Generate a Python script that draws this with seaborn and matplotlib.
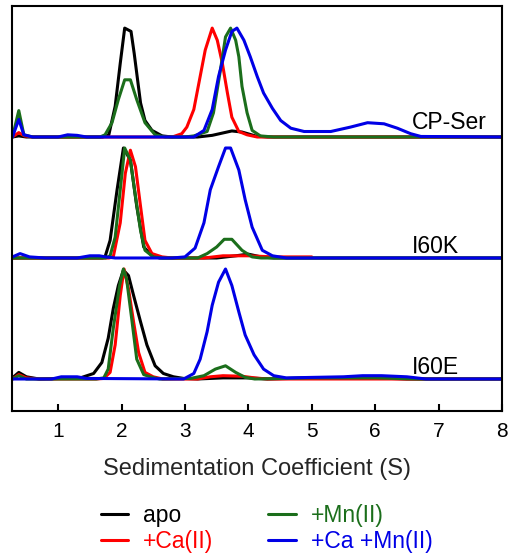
import matplotlib
matplotlib.use("Agg")
import matplotlib.pyplot as plt
from matplotlib.lines import Line2D
import seaborn as sns
import pandas as pd

# ---------------- data ----------------
conditions = ["apo", "+Ca(II)", "+Mn(II)", "+Ca +Mn(II)"]
colors = ["#000000", "#ff0000", "#1b6e1b", "#0000e6"]
panel_names = ["CP-Ser", "I60K", "I60E"]
panel_offsets = [2.2, 1.1, 0.0]
x_ticks = [1, 2, 3, 4, 5, 6, 7, 8]

# CP-Ser
cp_apo_s = [0.28, 0.38, 0.5, 1.7, 1.8, 1.9, 1.98, 2.05, 2.15, 2.2, 2.3, 2.37, 2.48, 2.64, 2.8, 3.2, 3.43, 3.74, 3.9, 4.11, 4.3, 8.0]
cp_apo_y = [0, 0.01, 0, 0, 0.02, 0.28, 0.67, 0.99, 0.96, 0.76, 0.31, 0.15, 0.06, 0.01, 0, 0, 0.015, 0.055, 0.045, 0.01, 0, 0]
cp_ca_s = [0.28, 0.38, 0.47, 0.6, 2.8, 2.95, 3.03, 3.14, 3.24, 3.32, 3.43, 3.51, 3.59, 3.67, 3.74, 3.85, 3.98, 4.14, 8.0]
cp_ca_y = [0, 0.04, 0.01, 0, 0, 0.03, 0.09, 0.25, 0.55, 0.79, 0.99, 0.88, 0.67, 0.40, 0.18, 0.05, 0.02, 0, 0]
cp_mn_s = [0.28, 0.38, 0.46, 0.6, 1.66, 1.74, 1.85, 1.95, 2.05, 2.14, 2.24, 2.37, 2.53, 2.69, 3.0, 3.14, 3.35, 3.45, 3.56, 3.64, 3.72, 3.80, 3.85, 3.90, 3.98, 4.06, 4.19, 4.4, 8.0]
cp_mn_y = [0, 0.24, 0.02, 0, 0, 0.02, 0.13, 0.34, 0.52, 0.52, 0.34, 0.13, 0.02, 0, 0, 0.01, 0.05, 0.22, 0.61, 0.91, 0.99, 0.88, 0.73, 0.46, 0.22, 0.06, 0.01, 0, 0]
cp_cam_s = [0.28, 0.38, 0.46, 0.6, 1.0, 1.15, 1.3, 1.45, 3.0, 3.14, 3.3, 3.43, 3.53, 3.64, 3.74, 3.82, 3.93, 4.03, 4.14, 4.24, 4.38, 4.51, 4.67, 4.88, 5.3, 5.61, 5.88, 6.14, 6.35, 6.56, 6.72, 8.0]
cp_cam_y = [0, 0.16, 0.02, 0, 0, 0.02, 0.015, 0, 0, 0, 0.06, 0.25, 0.55, 0.79, 0.96, 0.99, 0.88, 0.73, 0.55, 0.40, 0.26, 0.15, 0.08, 0.05, 0.05, 0.09, 0.13, 0.12, 0.08, 0.03, 0.005, 0]

# I60K
k_apo_s = [0.28, 1.7, 1.74, 1.82, 1.93, 2.03, 2.14, 2.24, 2.35, 2.48, 2.6, 3.5, 3.8, 4.0, 4.2, 4.4, 8.0]
k_apo_y = [0, 0, 0.01, 0.16, 0.62, 1.0, 0.89, 0.47, 0.10, 0.02, 0, 0, 0.02, 0.035, 0.01, 0, 0]
k_ca_s = [0.28, 1.8, 1.87, 1.98, 2.06, 2.14, 2.22, 2.30, 2.37, 2.48, 2.64, 2.8, 3.3, 3.6, 4.0, 4.4, 5.0]
k_ca_y = [0, 0, 0.01, 0.32, 0.77, 0.98, 0.83, 0.47, 0.16, 0.04, 0.01, 0, 0, 0.02, 0.02, 0.01, 0.01]
k_mn_s = [0.28, 1.75, 1.82, 1.90, 1.98, 2.05, 2.14, 2.22, 2.30, 2.37, 2.50, 2.65, 3.2, 3.35, 3.5, 3.62, 3.74, 3.90, 4.06, 4.2, 8.0]
k_mn_y = [0, 0, 0.02, 0.19, 0.62, 1.0, 0.89, 0.56, 0.25, 0.07, 0.01, 0, 0, 0.04, 0.10, 0.17, 0.17, 0.07, 0.01, 0, 0]
k_cam_s = [0.28, 0.4, 0.55, 0.8, 1.3, 1.5, 1.65, 1.75, 1.9, 2.8, 3.0, 3.16, 3.30, 3.40, 3.53, 3.64, 3.72, 3.85, 3.95, 4.06, 4.22, 4.38, 4.6, 8.0]
k_cam_y = [0.01, 0.04, 0.01, 0, 0, 0.02, 0.02, 0.01, 0, 0, 0.01, 0.09, 0.32, 0.62, 0.83, 1.0, 1.0, 0.80, 0.53, 0.28, 0.07, 0.02, 0, 0]

# I60E
e_apo_s = [0.28, 0.38, 0.5, 0.7, 1.35, 1.56, 1.69, 1.79, 1.87, 1.95, 2.03, 2.11, 2.19, 2.30, 2.40, 2.53, 2.66, 2.82, 2.98, 3.2, 3.6, 4.0, 4.3, 5.0, 6.0, 6.5, 8.0]
e_apo_y = [0.01, 0.06, 0.02, 0, 0.01, 0.05, 0.15, 0.37, 0.64, 0.85, 0.99, 0.94, 0.76, 0.52, 0.31, 0.12, 0.05, 0.02, 0.005, 0, 0.01, 0.01, 0, 0.01, 0.01, 0, 0]
e_ca_s = [0.28, 0.38, 0.5, 0.7, 1.6, 1.72, 1.82, 1.90, 1.98, 2.04, 2.11, 2.19, 2.27, 2.37, 2.50, 2.65, 3.2, 3.4, 3.6, 3.9, 4.1, 4.3, 8.0]
e_ca_y = [0, 0.04, 0.01, 0, 0, 0.005, 0.06, 0.31, 0.76, 1.0, 0.82, 0.52, 0.24, 0.06, 0.02, 0, 0, 0.02, 0.03, 0.025, 0.01, 0, 0]
e_mn_s = [0.28, 0.38, 0.5, 1.6, 1.72, 1.79, 1.87, 1.97, 2.03, 2.08, 2.16, 2.24, 2.35, 2.45, 2.6, 3.09, 3.30, 3.48, 3.64, 3.80, 3.95, 4.1, 5.0, 6.0, 6.7, 8.0]
e_mn_y = [0, 0.03, 0, 0, 0.01, 0.09, 0.46, 0.85, 1.0, 0.91, 0.55, 0.18, 0.04, 0.02, 0, 0.005, 0.03, 0.09, 0.12, 0.06, 0.015, 0, 0.01, 0.01, 0, 0]
e_cam_s = [0.28, 0.9, 1.05, 1.3, 1.45, 2.98, 3.14, 3.24, 3.35, 3.43, 3.53, 3.64, 3.74, 3.85, 3.95, 4.09, 4.24, 4.40, 4.6, 5.5, 5.8, 6.1, 6.5, 6.8, 8.0]
e_cam_y = [0, 0, 0.02, 0.02, 0.005, 0, 0.05, 0.18, 0.43, 0.67, 0.88, 1.0, 0.85, 0.61, 0.40, 0.22, 0.09, 0.03, 0.01, 0.02, 0.03, 0.03, 0.02, 0, 0]

panels = [
    [(cp_apo_s, cp_apo_y), (cp_ca_s, cp_ca_y), (cp_mn_s, cp_mn_y), (cp_cam_s, cp_cam_y)],
    [(k_apo_s, k_apo_y), (k_ca_s, k_ca_y), (k_mn_s, k_mn_y), (k_cam_s, k_cam_y)],
    [(e_apo_s, e_apo_y), (e_ca_s, e_ca_y), (e_mn_s, e_mn_y), (e_cam_s, e_cam_y)],
]

# ---------------- plotting ----------------
sns.set_style("white")
plt.rcParams["font.family"] = ["Liberation Sans", "DejaVu Sans"]

fig = plt.figure(figsize=(5.11, 5.59), dpi=100)
ax = fig.add_axes([12 / 511, 1 - 411 / 559, 490 / 511, 405 / 559])

lw = 2.2
palette = dict(zip(conditions, colors))
for name, offset, curves in zip(panel_names, panel_offsets, panels):
    rows = []
    for cond, (s, y) in zip(conditions, curves):
        for si, yi in zip(s, y):
            rows.append({"S": si, "signal": yi + offset, "condition": cond})
    df = pd.DataFrame(rows)
    for cond in conditions:
        sns.lineplot(data=df[df["condition"] == cond], x="S", y="signal",
                     color=palette[cond], linewidth=lw, estimator=None,
                     sort=False, legend=False, ax=ax)
    ax.text(6.58, offset + (0.073 if offset > 2 else 0.045), name,
            fontsize=16.5, ha="left", va="baseline", color="black")

ax.set_xlim(0.273, 8.0)
ax.set_ylim(-0.291, 3.391)
ax.set_xticks(x_ticks)
ax.set_xticklabels([str(t) for t in x_ticks], fontsize=15)
ax.set_yticks([])
ax.set_ylabel("")
ax.set_xlabel("Sedimentation Coefficient (S)", fontsize=17, labelpad=12)
ax.tick_params(axis="x", direction="in", length=5, width=1.5, pad=8,
               bottom=True, colors="black")
for sp in ax.spines.values():
    sp.set_linewidth(1.5)
    sp.set_color("black")
    sp.set_visible(True)

handles = [Line2D([0], [0], color=c, linewidth=lw) for c in colors]
fig.legend(handles, conditions, loc="center", bbox_to_anchor=(0.5215, 0.0547),
           ncol=2, frameon=False, fontsize=16.5, handlelength=1.2,
           handletextpad=0.65, columnspacing=2.4, labelspacing=0.15,
           labelcolor="linecolor", borderpad=0)

fig.savefig("out.png", dpi=100)
